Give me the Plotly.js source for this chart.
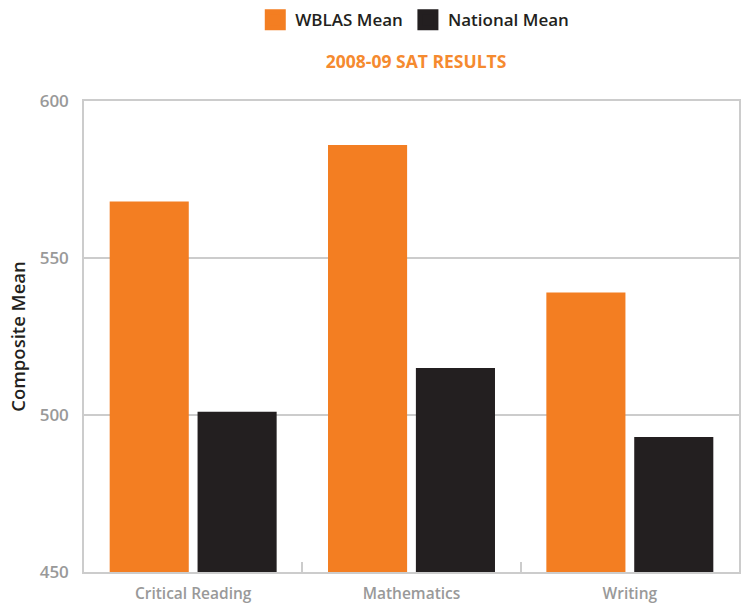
<!DOCTYPE html>
<html>
<head>
<meta charset="utf-8">
<script src="https://cdn.plot.ly/plotly-3.0.1.min.js"></script>
<style>html,body{margin:0;padding:0;background:#fff;}#chart{width:741px;height:606px;}</style>
</head>
<body>
<div id="chart"></div>
<script>
const categories = ["Critical Reading", "Mathematics", "Writing"];
const wblasMean = [568, 586, 539];
const nationalMean = [501, 515, 493];
const seriesNames = ["WBLAS Mean", "National Mean"];
const seriesColors = ["#F37E22", "#231F20"];
const yTicks = [450, 500, 550, 600];

const FONT = "Open Sans, sans-serif";
const traces = [
  {type: "bar", name: seriesNames[0], x: categories, y: wblasMean, marker: {color: seriesColors[0]}, legendgroup: "a", showlegend: false, hoverinfo: "x+y"},
  {type: "bar", name: seriesNames[1], x: categories, y: nationalMean, marker: {color: seriesColors[1]}, legendgroup: "b", showlegend: false, hoverinfo: "x+y"},
  {type: "scatter", mode: "markers", name: seriesNames[0], x: [categories[0]], y: [null], legendgroup: "a",
   marker: {symbol: "square", size: 24, color: seriesColors[0], line: {color: seriesColors[0], width: 5}}, hoverinfo: "skip"},
  {type: "scatter", mode: "markers", name: seriesNames[1], x: [categories[0]], y: [null], legendgroup: "b",
   marker: {symbol: "square", size: 24, color: seriesColors[1], line: {color: seriesColors[1], width: 5}}, hoverinfo: "skip"}
];
const layout = {
  width: 741, height: 606,
  margin: {l: 84, r: 2, t: 101, b: 34, pad: 0},
  paper_bgcolor: "#fff", plot_bgcolor: "#fff",
  font: {family: FONT, color: "#231F20"},
  barmode: "group", bargap: 0.195, bargroupgap: 0.1,
  showlegend: true,
  legend: {orientation: "h", x: 0.505, xanchor: "center", y: 1.21, yanchor: "top",
           font: {family: FONT, size: 17, color: "#231F20", weight: 600}, itemwidth: 30, traceorder: "normal"},
  title: {text: "2008-09 SAT RESULTS", xref: "paper", x: 0.507, xanchor: "center", yref: "container", y: 1 - 62/606, yanchor: "middle",
          font: {family: FONT, size: 17.5, color: "#F58A2F", weight: 700}},
  xaxis: {type: "category", showline: true, mirror: true, linecolor: "#cccccc", linewidth: 1.5,
          ticks: "inside", tickson: "boundaries", ticklen: 10, tickcolor: "#cccccc", tickwidth: 1.5,
          tickfont: {family: FONT, size: 15.5, color: "#999999", weight: 600}, ticklabelstandoff: 7,
          showgrid: false, zeroline: false, fixedrange: true},
  yaxis: {range: [450, 600], tickvals: yTicks, showline: true, mirror: true, linecolor: "#cccccc", linewidth: 1.5,
          showgrid: true, gridcolor: "#cccccc", gridwidth: 1.5, zeroline: false,
          ticks: "", tickfont: {family: FONT, size: 17, color: "#999999", weight: 600}, ticklabelstandoff: 10,
          title: {text: "Composite Mean", font: {family: FONT, size: 18.5, color: "#231F20", weight: 600}, standoff: 9},
          fixedrange: true}
};
Plotly.newPlot("chart", traces, layout, {displayModeBar: false, responsive: false});
</script>
</body>
</html>
